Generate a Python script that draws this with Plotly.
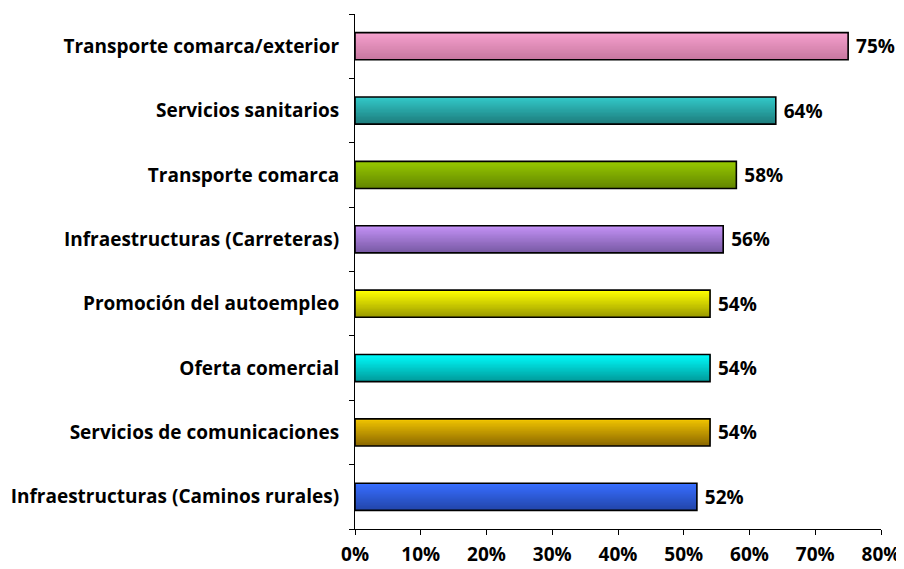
import plotly.graph_objects as go

# Data (bottom to top)
categories = [
    "Infraestructuras (Caminos rurales)",
    "Servicios de comunicaciones",
    "Oferta comercial",
    "Promoción del autoempleo",
    "Infraestructuras (Carreteras)",
    "Transporte comarca",
    "Servicios sanitarios",
    "Transporte comarca/exterior",
]
values = [52, 54, 54, 54, 56, 58, 64, 75]
x_ticks = [0, 10, 20, 30, 40, 50, 60, 70, 80]
x_tick_labels = [f"{t}%" for t in x_ticks]

# gradient colours: (top, bottom)
top_colors = [(55, 110, 255), (240, 195, 0), (0, 250, 250), (255, 255, 0),
              (195, 145, 245), (150, 200, 0), (50, 200, 200), (245, 160, 205)]
bot_colors = [(35, 70, 170), (140, 105, 0), (0, 155, 155), (155, 155, 0),
              (120, 90, 165), (100, 135, 0), (30, 125, 125), (200, 120, 160)]

FONT = "Open Sans"
FS = 19
BAR_W = 0.42
N = 20

fig = go.Figure()
sw = BAR_W / N
for i in range(N):
    t = i / (N - 1)  # 0 bottom -> 1 top
    cols = []
    for tc, bc in zip(top_colors, bot_colors):
        c = [round(bc[k] + (tc[k] - bc[k]) * t) for k in range(3)]
        cols.append(f"rgb({c[0]},{c[1]},{c[2]})")
    lo = -BAR_W / 2 + i * sw
    fig.add_trace(go.Bar(
        y=categories, x=values, orientation="h",
        width=BAR_W / 2 - lo, offset=lo,
        marker=dict(color=cols, line=dict(width=0)),
        hoverinfo="skip", showlegend=False,
    ))

fig.add_trace(go.Bar(
    y=categories, x=values, orientation="h",
    width=BAR_W,
    marker=dict(color="rgba(0,0,0,0)", line=dict(color="black", width=1.6)),
    text=[f" {v}%" for v in values], textposition="outside",
    textfont=dict(family=FONT, size=FS, color="black", weight="bold"),
    cliponaxis=False, showlegend=False,
))

fig.update_layout(
    template="none",
    width=896, height=561,
    margin=dict(l=347, r=23, t=6, b=40),
    paper_bgcolor="white", plot_bgcolor="white",
    barmode="overlay",
    font=dict(family=FONT, size=FS, color="black", weight="bold"),
    xaxis=dict(
        range=[0, 80], tickvals=x_ticks, ticktext=x_tick_labels,
        showline=True, linecolor="black", linewidth=1,
        ticks="outside", ticklen=5, tickcolor="black",
        showgrid=False, zeroline=False, fixedrange=True, automargin=False,
        ticklabelstandoff=3,
        tickfont=dict(family=FONT, size=FS, color="black", weight="bold"),
    ),
    yaxis=dict(
        type="category", categoryorder="array", categoryarray=categories,
        showline=True, linecolor="black", linewidth=1,
        ticks="outside", ticklen=5, tickcolor="black", tickson="boundaries",
        showgrid=False, zeroline=False, automargin=False, fixedrange=True,
        ticklabelstandoff=11,
        tickfont=dict(family=FONT, size=FS, color="black", weight="bold"),
    ),
)

fig.write_html("out.html")
